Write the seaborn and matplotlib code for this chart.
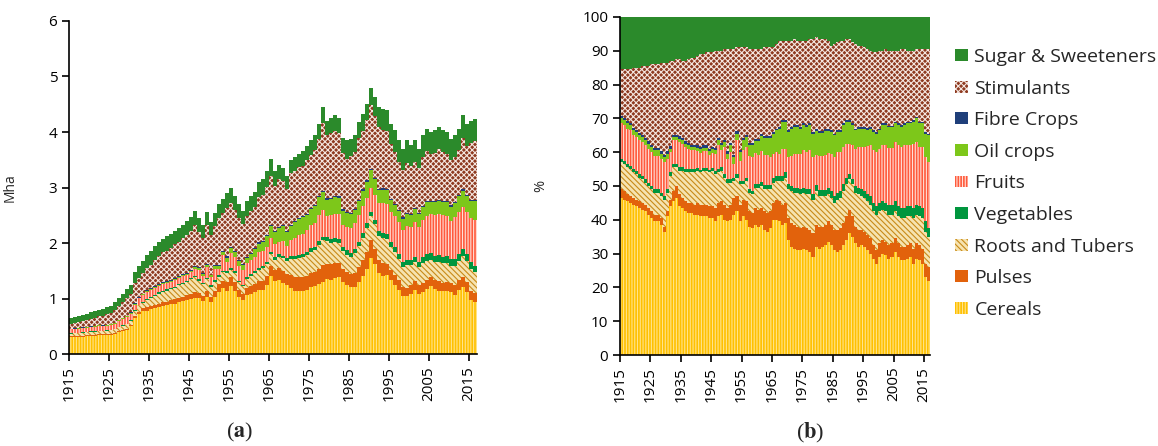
import numpy as np
import pandas as pd
import matplotlib as mpl
import matplotlib.pyplot as plt
import seaborn as sns
from matplotlib.patches import Patch

# years shown on both panels
years = list(range(1915, 2017))

# total harvested area (Mha)
total_mha = [0.65, 0.66, 0.68, 0.70, 0.73, 0.75, 0.77, 0.80, 0.81, 0.84,
             0.87, 0.93, 1.01, 1.08, 1.17, 1.25, 1.48, 1.58, 1.67, 1.78,
             1.85, 1.94, 2.02, 2.08, 2.12, 2.16, 2.22, 2.27, 2.33, 2.40,
             2.47, 2.58, 2.45, 2.32, 2.56, 2.38, 2.55, 2.70, 2.80, 2.90,
             3.00, 2.85, 2.70, 2.58, 2.75, 2.85, 2.92, 3.10, 3.15, 3.30,
             3.52, 3.30, 3.40, 3.35, 3.20, 3.50, 3.55, 3.60, 3.65, 3.75,
             3.85, 3.95, 4.15, 4.45, 4.20, 4.25, 4.30, 4.25, 3.90, 3.85,
             3.88, 3.94, 4.18, 4.33, 4.50, 4.80, 4.63, 4.45, 4.42, 4.40,
             4.15, 4.03, 3.85, 3.70, 3.85, 3.76, 3.85, 3.70, 3.94, 4.06,
             4.00, 4.03, 4.09, 4.03, 4.00, 3.88, 3.94, 4.06, 4.30, 4.15,
             4.20, 4.24]

# share of each crop group (%)
cereals = [46.5, 46, 45.5, 45, 44.5, 44, 43.5, 43, 42.5, 41.5,
           40.5, 39.5, 39.5, 38.5, 36.5, 41, 44, 45.5, 46.5, 44,
           43.5, 42.5, 42, 42, 41.5, 41.5, 41, 41, 41, 40.5,
           40.5, 39.5, 41, 41.5, 40, 39.5, 40, 41.5, 42.5, 39.5,
           41, 40, 38, 37.5, 38.5, 38, 38.5, 37, 36.5, 37.5,
           40, 40, 39.5, 38.5, 39, 34, 32, 31.5, 31, 31,
           31.5, 31, 30.5, 29, 32, 31.5, 32, 32.5, 33.5, 32.5,
           31, 30.5, 31, 32.5, 34, 36, 35, 33, 32, 32.5,
           32, 31, 30, 28.5, 27, 29, 30, 29.5, 28.5, 29,
           30.5, 29, 28, 28, 28.5, 29, 27, 28.5, 28, 27,
           23, 22]
pulses = [2.5, 2.5, 2, 2, 2, 2, 2, 2, 2, 2,
          2, 2, 2, 2, 1.5, 1.5, 2, 3, 3.5, 3.5,
          3, 3, 3, 3, 3, 3.5, 3.5, 3.5, 3.5, 3.5,
          3.5, 4, 4, 4, 4.5, 4, 4.5, 5, 4.5, 5,
          5, 5.5, 4.5, 4.5, 5, 5, 5, 5.5, 5.5, 5,
          5, 6, 6, 6, 6, 6.5, 7, 7, 7, 6.5,
          6.5, 6.5, 6.5, 7, 6.5, 6.5, 6, 6, 6, 6,
          6, 6.5, 6.5, 6.5, 7, 7, 6, 5, 5, 4.5,
          4.5, 4.5, 4.5, 4, 4, 4, 4, 4, 4, 4,
          4, 4, 4, 4, 4, 4, 4.5, 4.5, 4.5, 4.5,
          4, 4]
roots = [8, 8, 8, 8, 7.5, 7.5, 7, 7, 6.5, 6.5,
         6.5, 6.5, 6.5, 6.5, 8, 5.5, 7, 7, 5.5, 7,
         8, 8.5, 9, 9, 9.5, 9.5, 9.5, 10, 10, 10,
         10.5, 10, 9, 9, 8, 7.5, 6.5, 5, 5.5, 6,
         4.5, 6, 5.5, 5.5, 6, 6.5, 6.5, 6.5, 7, 6.5,
         6, 5.5, 6, 7, 7.5, 8.5, 9.5, 9.5, 10, 10,
         10, 10, 10.5, 10, 10, 9, 9, 8.5, 8, 8,
         8, 9, 9, 9.5, 9.5, 9, 9.5, 10, 10.5, 10,
         10, 10, 10, 10, 10.5, 9.5, 9, 9, 9, 8.5,
         8, 8, 8.5, 8.5, 8.5, 8, 9, 8.5, 8.5, 9,
         9.5, 9]
vegetables = [1, 1, 1, 1, 1, 1, 1, 1, 1, 1,
              1, 1, 1, 1, 1, 1, 1, 1, 1, 1,
              1, 1, 1, 1, 1, 0.8, 0.8, 0.8, 0.8, 0.8,
              0.8, 1, 1, 1, 1, 1, 1, 1, 1, 1,
              1, 1, 1, 1, 1.2, 1.2, 1.2, 1.2, 1.2, 1.2,
              1.5, 1.5, 1.5, 1.5, 1.5, 1.5, 1.5, 1.5, 1.5, 1.5,
              1.5, 1.5, 1.5, 1.5, 1.8, 1.8, 1.8, 1.8, 1.8, 2,
              2, 2, 2, 2, 2, 1.5, 1.5, 2, 2, 2,
              2, 2.2, 2.5, 2.5, 2.5, 2.5, 2.5, 2.5, 2.8, 2.8,
              3, 3, 3, 3, 3, 3, 3, 3, 3, 3,
              3, 2.5]
fruits = [10.5, 10.5, 10.5, 10.5, 10, 10, 10, 10, 10, 10,
          10, 10, 10, 10, 10, 9, 6, 7, 7, 7.5,
          7, 6.5, 6, 5.5, 5.5, 5, 5, 5, 5, 4.5,
          4.5, 5, 7, 5, 8, 6, 8, 4, 10, 6,
          9, 9, 10, 10, 9, 8.5, 9, 9, 9, 8.5,
          7, 7, 6.5, 8, 7, 8, 9, 10, 10, 10.5,
          11, 11, 11.5, 11, 9, 10, 10, 10.5, 10.5, 11,
          11.5, 12, 11.5, 11, 10, 9, 10, 11, 12, 12.5,
          13, 14, 15, 15.5, 16, 16, 16.5, 17, 17, 17,
          17.5, 18, 18, 18.5, 18, 18, 19, 18.5, 17.5, 18,
          19, 19.5]
oil_crops = [1.5, 1.5, 1.5, 1.5, 1.5, 1.5, 1.5, 1.5, 1.5, 1.5,
             1.5, 1.5, 1.5, 1.5, 1.5, 1.5, 1, 1, 1, 1,
             1, 1, 1, 1, 1, 1, 1, 1, 1, 1,
             1, 1, 1.5, 1.5, 1.5, 1.5, 2, 2, 2, 2.5,
             3, 3, 3, 3.5, 3.5, 4, 4.5, 5, 5, 5.5,
             6, 6.5, 7.5, 8, 8, 7.5, 8, 8, 8, 7.5,
             7.5, 7.5, 7.5, 7, 7, 7, 7, 7, 6.5, 6.5,
             6.5, 6, 6, 6.5, 6.5, 6.5, 6, 5.5, 5.5, 5.5,
             5.5, 5, 5, 5.5, 5.5, 5.5, 6, 6, 6, 6,
             5.5, 6, 6, 6, 6.5, 6.5, 6.5, 7, 7, 7,
             7, 8]
fibre = [0.7, 0.7, 0.7, 0.7, 0.7, 0.7, 0.7, 0.7, 0.7, 0.7,
         0.7, 0.7, 0.7, 0.7, 0.7, 0.7, 0.7, 0.7, 0.7, 0.7,
         0.7, 0.7, 0.7, 0.7, 0.7, 0.7, 0.7, 0.7, 0.7, 0.7,
         0.7, 0.7, 0.7, 0.7, 0.7, 0.7, 0.7, 0.7, 0.7, 0.7,
         0.7, 0.7, 0.7, 0.7, 0.7, 0.7, 0.7, 0.7, 0.7, 0.7,
         0.5, 0.5, 0.5, 0.5, 0.5, 0.5, 0.5, 0.5, 0.5, 0.5,
         0.5, 0.5, 0.5, 0.5, 0.5, 0.5, 0.5, 0.5, 0.5, 0.5,
         0.5, 0.5, 0.5, 0.5, 0.5, 0.5, 0.5, 0.5, 0.5, 0.5,
         0.5, 0.5, 0.5, 0.5, 0.5, 0.5, 0.5, 0.5, 0.5, 0.5,
         0.5, 0.5, 0.5, 0.5, 0.5, 0.5, 0.5, 0.5, 0.5, 0.5,
         0.5, 0.5]
stimulants = [13.8, 14.3, 15.3, 15.8, 17.8, 18.3, 19.3, 20.3, 21.3, 22.3,
              23.8, 24.8, 24.8, 26.3, 27.3, 26.3, 25.3, 21.8, 22.3, 22.8,
              22.8, 23.8, 24.8, 25.8, 25.8, 26.5, 27.5, 27, 27.5, 28.5,
              28, 28.8, 25.8, 27.3, 26.8, 30.3, 27.8, 31.3, 24.8, 30.3,
              26.8, 25.8, 27.8, 27.8, 26.6, 26.6, 25.1, 26.1, 26.1, 26.1,
              25, 25, 25.5, 23.5, 23.5, 26.5, 25.5, 25.5, 25, 25.5,
              24.5, 25, 25, 27.5, 27.2, 27.2, 27.2, 26.7, 26.2, 25,
              26.5, 26, 26.5, 24.5, 24, 24, 24, 25, 24, 24,
              23.5, 23.3, 22.5, 23, 23.5, 23, 21.5, 22, 22.2, 22.2,
              21, 21.5, 22.5, 22, 21, 21, 20.5, 20, 21.5, 21.5,
              24.5, 25]
sugar = [15.5, 15.5, 15.5, 15.5, 15, 15, 15, 14.5, 14.5, 14.5,
         14, 14, 14, 13.5, 13.5, 13.5, 13, 13, 12.5, 12.5,
         13, 13, 12.5, 12, 12, 11.5, 11, 11, 10.5, 10.5,
         10.5, 10, 10, 10, 9.5, 9.5, 9.5, 9.5, 9, 9,
         9, 9, 9.5, 9.5, 9.5, 9.5, 9.5, 9, 9, 9,
         9, 8, 7, 7, 7, 7, 7, 6.5, 7, 7,
         7, 7, 6.5, 6.5, 6, 6.5, 6.5, 6.5, 7, 8.5,
         8, 7.5, 7, 7, 6.5, 6.5, 7.5, 8, 8.5, 8.5,
         9, 9.5, 10, 10.5, 10.5, 10, 10, 9.5, 10, 10,
         10, 10, 9.5, 9.5, 10, 10, 10, 9.5, 9.5, 9.5,
         9.5, 9.5]

# stacking order: first entry on top (seaborn stacks the last level at the bottom)
crops = ['Sugar & Sweeteners', 'Stimulants', 'Fibre Crops', 'Oil crops', 'Fruits',
         'Vegetables', 'Roots and Tubers', 'Pulses', 'Cereals']

shares = pd.DataFrame({
    'Cereals': cereals, 'Pulses': pulses, 'Roots and Tubers': roots,
    'Vegetables': vegetables, 'Fruits': fruits, 'Oil crops': oil_crops,
    'Fibre Crops': fibre, 'Stimulants': stimulants, 'Sugar & Sweeteners': sugar,
}, index=years)
pct = shares.div(shares.sum(axis=1), axis=0) * 100
mha = pct.mul(total_mha, axis=0) / 100

def to_long(wide, name):
    out = wide.reset_index().melt(id_vars='index', var_name='crop', value_name=name)
    return out.rename(columns={'index': 'year'})

df_a = to_long(mha, 'mha')
df_b = to_long(pct, 'pct')

# unique colours used by seaborn, then swapped for the patterned look
palette = {
    'Sugar & Sweeteners': '#2b8a2b', 'Stimulants': '#8e3a20', 'Fibre Crops': '#1f3f7a',
    'Oil crops': '#7dc71a', 'Fruits': '#ff5a3c', 'Vegetables': '#00963e',
    'Roots and Tubers': '#d9a441', 'Pulses': '#e2620c', 'Cereals': '#ffc20e',
}
# face colour, hatch, hatch colour
styles = {
    'Sugar & Sweeteners': ('#2b8a2b', '', '#2b8a2b'),
    'Stimulants': ('#8e3a20', 'xxxxxx', '#f4e6e0'),
    'Fibre Crops': ('#1f3f7a', '', '#1f3f7a'),
    'Oil crops': ('#7dc71a', '', '#7dc71a'),
    'Fruits': ('#ff5a3c', '||||||', '#ffe0d8'),
    'Vegetables': ('#00963e', '', '#00963e'),
    'Roots and Tubers': ('#f6e3b0', '\\\\\\\\\\\\', '#c88a18'),
    'Pulses': ('#e2620c', '', '#e2620c'),
    'Cereals': ('#ffc000', '||||||', '#ffe48c'),
}

sns.set_style('ticks')
plt.rcParams['font.family'] = ['Open Sans', 'DejaVu Sans']
plt.rcParams['hatch.linewidth'] = 0.8

fig = plt.figure(figsize=(11.58, 4.46), dpi=100)
ax1 = fig.add_axes([0.0596, 0.206, 0.3523, 0.747])
ax2 = fig.add_axes([0.5354, 0.204, 0.2677, 0.758])

sns.histplot(data=df_a, x='year', weights='mha', hue='crop', hue_order=crops,
             multiple='stack', binwidth=1, binrange=(1915, 2017), palette=palette,
             linewidth=0, alpha=1, legend=False, ax=ax1)
sns.histplot(data=df_b, x='year', weights='pct', hue='crop', hue_order=crops,
             multiple='stack', binwidth=1, binrange=(1915, 2017), palette=palette,
             linewidth=0, alpha=1, legend=False, ax=ax2)

def style_bars(ax):
    for cont in ax.containers:
        fc = cont.patches[0].get_facecolor()[:3]
        for crop in crops:
            if np.allclose(fc, mpl.colors.to_rgb(palette[crop]), atol=0.01):
                face, hatch, hcol = styles[crop]
                for p in cont.patches:
                    p.set_facecolor(face)
                    p.set_edgecolor(hcol)
                    p.set_hatch(hatch)
                    p.set_linewidth(0)

style_bars(ax1)
style_bars(ax2)

for ax in (ax1, ax2):
    ax.set_xlim(1915, 2017)
    ax.set_xticks(range(1915, 2016, 10))
    ax.set_xticklabels([str(y) for y in range(1915, 2016, 10)], rotation=90)
    ax.tick_params(axis='both', labelsize=11, length=5, width=1.2, colors='black')
    ax.set_xlabel('')
    for s in ('left', 'bottom'):
        ax.spines[s].set_linewidth(1.2)
        ax.spines[s].set_color('black')
    sns.despine(ax=ax)

ax1.set_ylim(0, 6)
ax1.set_yticks(range(0, 7))
ax1.set_ylabel('Mha', fontsize=10)
ax1.yaxis.set_label_coords(-0.125, 0.5)

ax2.set_ylim(0, 100)
ax2.set_yticks(range(0, 101, 10))
ax2.set_ylabel('%', fontsize=10.5)
ax2.yaxis.set_label_coords(-0.232, 0.5)

handles = [Patch(facecolor=styles[c][0], edgecolor=styles[c][2], hatch=styles[c][1],
                 linewidth=0, label=c) for c in crops]
fig.legend(handles=handles, loc='upper left', bbox_to_anchor=(0.818, 0.91),
           frameon=False, fontsize=14, handlelength=0.65, handleheight=0.55,
           handletextpad=0.35, labelspacing=0.7, borderaxespad=0)

plt.rcParams['mathtext.fontset'] = 'stix'
fig.text(0.207, 0.03, r'($\mathbf{a}$)', ha='center', va='center',
         fontsize=16, family='Liberation Serif')
fig.text(0.6995, 0.03, r'($\mathbf{b}$)', ha='center', va='center',
         fontsize=16, family='Liberation Serif')

fig.savefig('out.png', dpi=100)
